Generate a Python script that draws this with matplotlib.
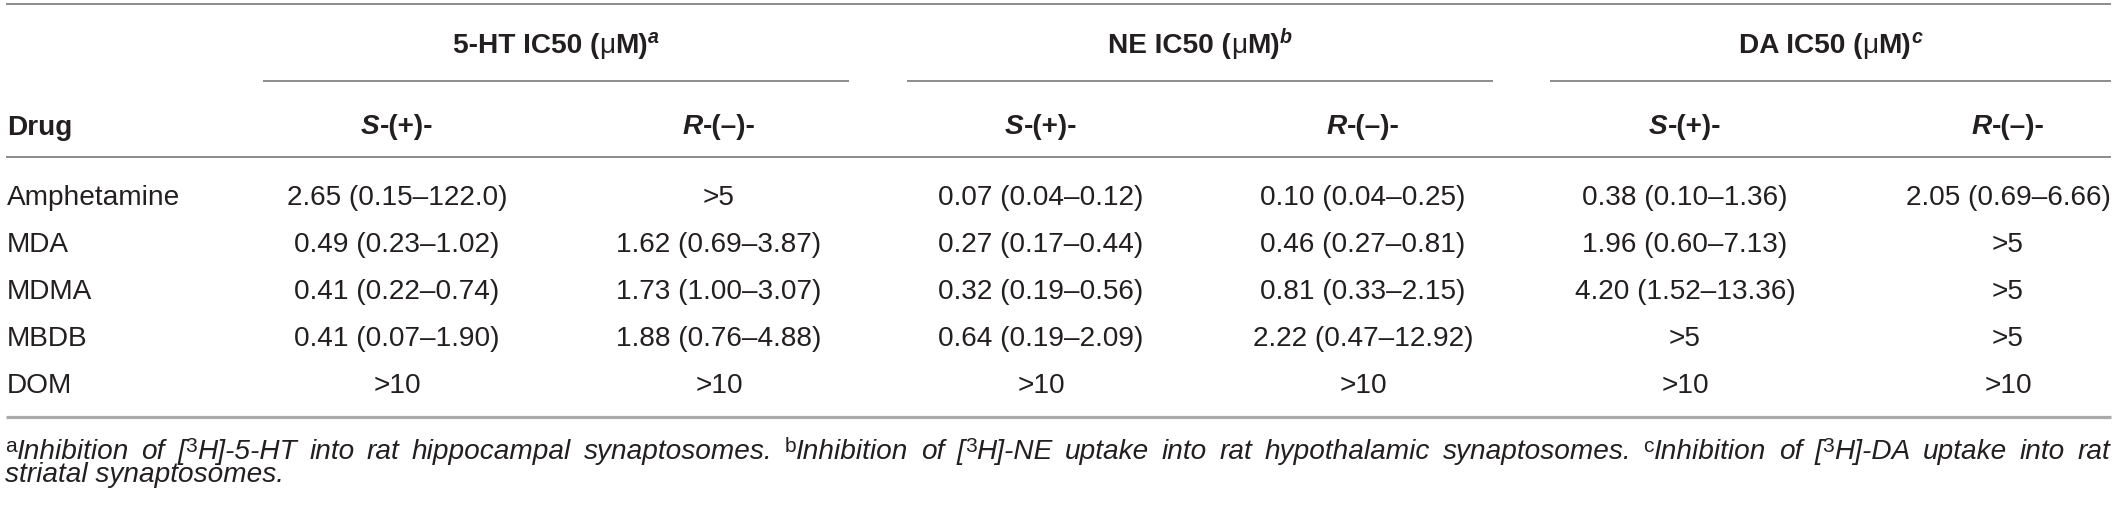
import matplotlib
matplotlib.use("Agg")
import matplotlib.pyplot as plt

# ---------------- data ----------------
drugs = ["Amphetamine", "MDA", "MDMA", "MBDB", "DOM"]
ht_s = ["2.65 (0.15–122.0)", "0.49 (0.23–1.02)", "0.41 (0.22–0.74)", "0.41 (0.07–1.90)", ">10"]
ht_r = [">5", "1.62 (0.69–3.87)", "1.73 (1.00–3.07)", "1.88 (0.76–4.88)", ">10"]
ne_s = ["0.07 (0.04–0.12)", "0.27 (0.17–0.44)", "0.32 (0.19–0.56)", "0.64 (0.19–2.09)", ">10"]
ne_r = ["0.10 (0.04–0.25)", "0.46 (0.27–0.81)", "0.81 (0.33–2.15)", "2.22 (0.47–12.92)", ">10"]
da_s = ["0.38 (0.10–1.36)", "1.96 (0.60–7.13)", "4.20 (1.52–13.36)", ">5", ">10"]
da_r = ["2.05 (0.69–6.66)", ">5", ">5", ">5", ">10"]
columns = [ht_s, ht_r, ne_s, ne_r, da_s, da_r]
group_names = ["5-HT IC50 (", "NE IC50 (", "DA IC50 ("]
group_marks = ["a", "b", "c"]
footnote_parts = [
    ("a", "H]-5-HT", "into rat hippocampal synaptosomes."),
    ("b", "H]-NE", "uptake into rat hypothalamic synaptosomes."),
    ("c", "H]-DA", "uptake into rat"),
]
footnote_line2 = "striatal synaptosomes."

# ---------------- layout ----------------
W, H = 2118, 510
FAM = ["Liberation Sans", "DejaVu Sans"]
FS = 20.2
TXT = "#231f20"
LINE = "#6e6e6e"

fig = plt.figure(figsize=(W / 100, H / 100), dpi=100)
ax = fig.add_axes([0, 0, 1, 1])
ax.set_xlim(0, W)
ax.set_ylim(H, 0)
ax.axis("off")
renderer = fig.canvas.get_renderer()


def make_runs(yb, runs):
    arts = []
    for s, st in runs:
        t = ax.text(0, yb - st.get("rise", 0), s,
                    fontsize=FS * st.get("scale", 1.0),
                    fontweight=st.get("weight", "normal"),
                    fontstyle=st.get("style", "normal"),
                    family=FAM, color=TXT, va="baseline", ha="left")
        arts.append((t, st.get("gap", 0.0)))
    widths = [t.get_window_extent(renderer).width for t, _ in arts]
    total = sum(widths) + sum(g for _, g in arts)
    return arts, widths, total


def place(arts, widths, x):
    cur = x
    for (t, g), w in zip(arts, widths):
        cur += g
        t.set_x(cur)
        cur += w
    return cur


def rich(x, yb, runs, ha="center"):
    arts, widths, total = make_runs(yb, runs)
    place(arts, widths, x - total / 2 if ha == "center" else x)


col_x = [397, 719, 1041, 1363, 1685, 2008]
group_lines = [(263, 849), (907, 1493), (1550, 2111)]
row_base = [205, 252, 299, 346, 393]
x_left, x_right = 6, 2111

# rules
ax.hlines(5, x_left, x_right, color=LINE, lw=1.1)
for x0, x1 in group_lines:
    ax.hlines(82, x0, x1, color=LINE, lw=1.1)
ax.hlines(158, x_left, x_right, color=LINE, lw=1.1)
ax.hlines(418, x_left, x_right, color="#aaaaaa", lw=2.3)

SUP = dict(scale=0.7, rise=10)
# group headers
for (x0, x1), name, mark in zip(group_lines, group_names, group_marks):
    rich((x0 + x1) / 2, 53, [
        (name, dict(weight="bold")),
        ("μ", dict(weight="normal")),
        ("M)", dict(weight="bold")),
        (mark, dict(weight="bold", style="italic", **SUP)),
    ])

# sub headers
ax.text(x_left + 1, 135, "Drug", fontsize=FS, fontweight="bold", family=FAM,
        color=TXT, va="baseline", ha="left")
for i, cx in enumerate(col_x):
    if i % 2 == 0:
        runs = [("S", dict(weight="bold", style="italic")), ("-(+)-", dict(weight="bold"))]
    else:
        runs = [("R", dict(weight="bold", style="italic")), ("-(–)-", dict(weight="bold"))]
    rich(cx, 134, runs)

# body
for r, drug in enumerate(drugs):
    ax.text(x_left + 1, row_base[r], drug, fontsize=FS, family=FAM, color=TXT,
            va="baseline", ha="left")
    for c, cx in enumerate(col_x):
        ax.text(cx, row_base[r], columns[c][r], fontsize=FS, family=FAM, color=TXT,
                va="baseline", ha="center")

# footnotes (first line justified to full width)
SUPF = dict(scale=0.75, rise=7)
IT = dict(style="italic")
words = []
for mark, iso, rest in footnote_parts:
    words.append([(mark, dict(**SUPF)), ("Inhibition", IT)])
    words.append([("of", IT)])
    words.append([("[", IT), ("3", dict(**SUPF)), (iso, IT)])
    for w in rest.split(" "):
        words.append([(w, IT)])
fy1, fy2 = 459, 482
built = [make_runs(fy1, w) for w in words]
sum_w = sum(b[2] for b in built)
x0_f, x1_f = x_left - 1, 2110
gap = (x1_f - x0_f - sum_w) / (len(built) - 1)
cur = x0_f
for arts, widths, total in built:
    place(arts, widths, cur)
    cur += total + gap
ax.text(x0_f, fy2, footnote_line2, fontsize=FS, fontstyle="italic", family=FAM,
        color=TXT, va="baseline", ha="left")

fig.savefig("out.png", dpi=100)
